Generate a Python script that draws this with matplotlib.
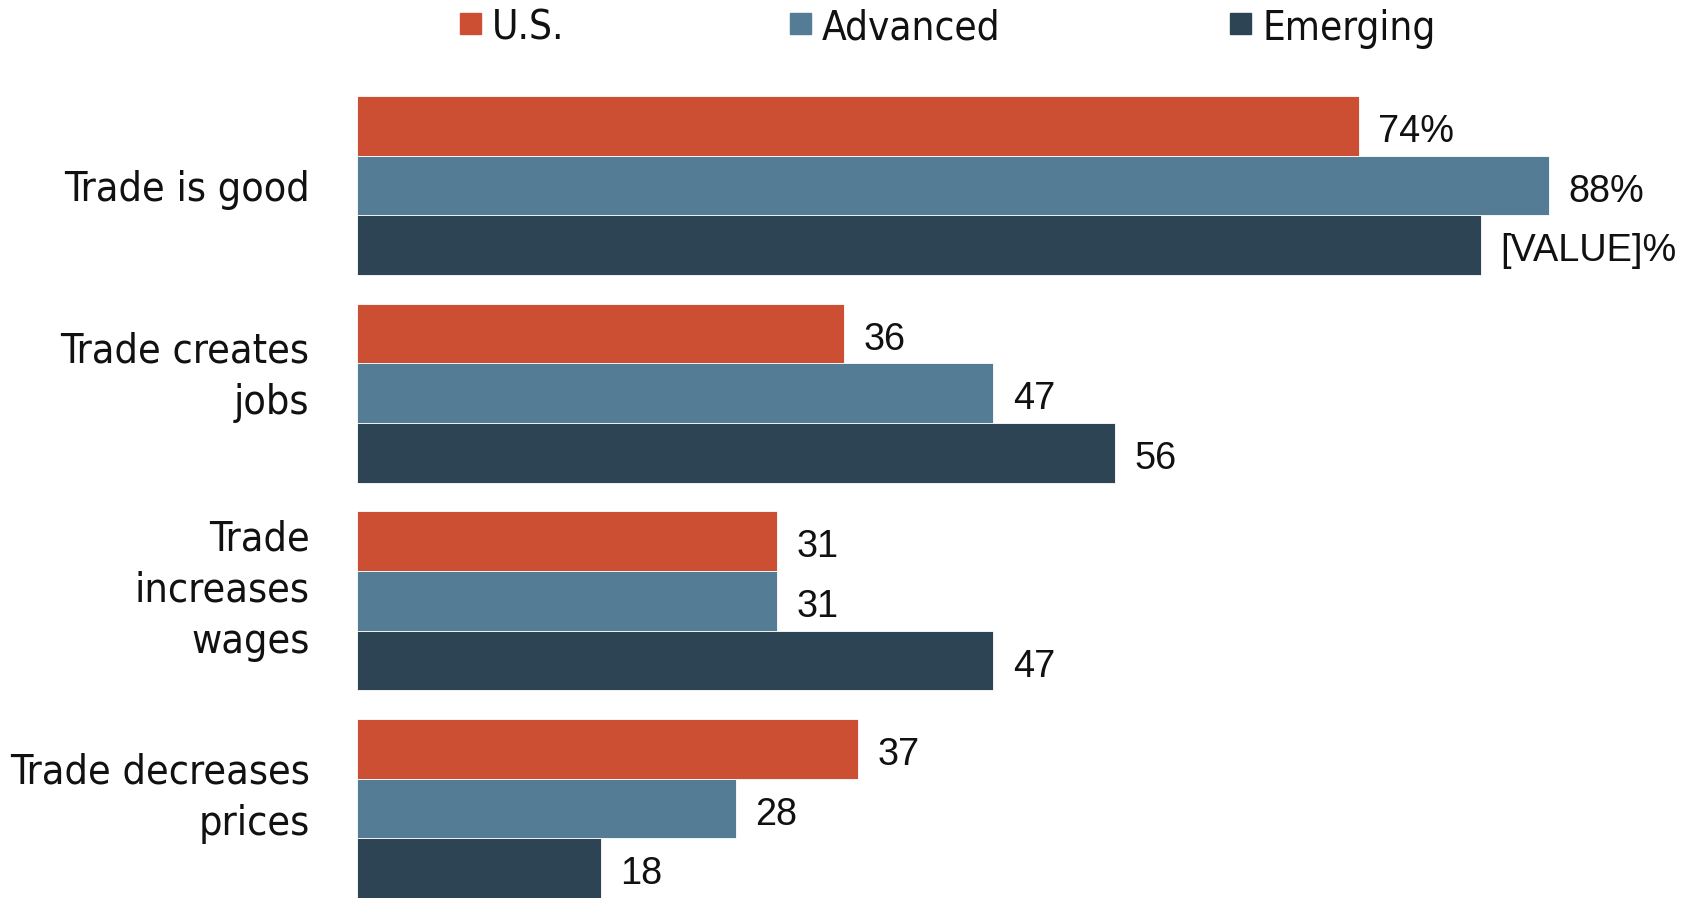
import matplotlib.pyplot as plt
from matplotlib.patches import Rectangle
import numpy as np

categories = ["Trade is good", "Trade creates\njobs", "Trade\nincreases\nwages", "Trade decreases\nprices"]
series = ["U.S.", "Advanced", "Emerging"]
us = [74, 36, 31, 37]
advanced = [88, 47, 31, 28]
emerging = [83, 56, 47, 18]
labels_us = ["74%", "36", "31", "37"]
labels_adv = ["88%", "47", "31", "28"]
labels_emg = ["[VALUE]%", "56", "47", "18"]

colors = ["#CD4F33", "#557C95", "#2D4455"]
plain = ["Liberation Sans", "DejaVu Sans"]

W, H = 1688, 898
fig = plt.figure(figsize=(W/100, H/100), dpi=100)
ax_left = 357/W
ax = fig.add_axes([ax_left, 0, 1-ax_left, 1-96/H])

px_per_unit = 13.54
ax.set_xlim(0, (W-357)/px_per_unit)

gap = 3.484
vals = [us, advanced, emerging]
labs = [labels_us, labels_adv, labels_emg]
for j in range(3):
    ys = np.arange(4)*gap + j
    ax.barh(ys, vals[j], height=1.0, color=colors[j], edgecolor="white", linewidth=0.6)
    for y, v, t in zip(ys, vals[j], labs[j]):
        ax.annotate(t, (v, y), xytext=(14, -4.5), textcoords="offset points",
                    ha="left", va="center", fontsize=27.3, family=plain, color="#111111")

# small vertical nudges so the labels sit like in the original
nudge = [0.07, -0.26, -0.17, -0.18]
for k, c in enumerate(categories):
    ax.text(-3.5, k*gap + 1 + nudge[k], c, ha="right", va="center", fontsize=29.6,
            family="DejaVu Sans", stretch="condensed", linespacing=1.37, color="#111111")

ax.set_ylim(3*gap + 2.5, -0.5)
ax.axis("off")

# legend drawn by hand, items spread across the top
leg_x = [460, 790, 1230]
for x, name, col in zip(leg_x, series, colors):
    fig.patches.append(Rectangle(((x)/W, 1-34/H), 21/W, 21/H, transform=fig.transFigure,
                                 color=col))
    fig.text((x+32)/W, 1-29/H, name, ha="left", va="center", fontsize=29,
             family="DejaVu Sans", stretch="condensed", color="#111111")

fig.savefig("out.png", dpi=100)
